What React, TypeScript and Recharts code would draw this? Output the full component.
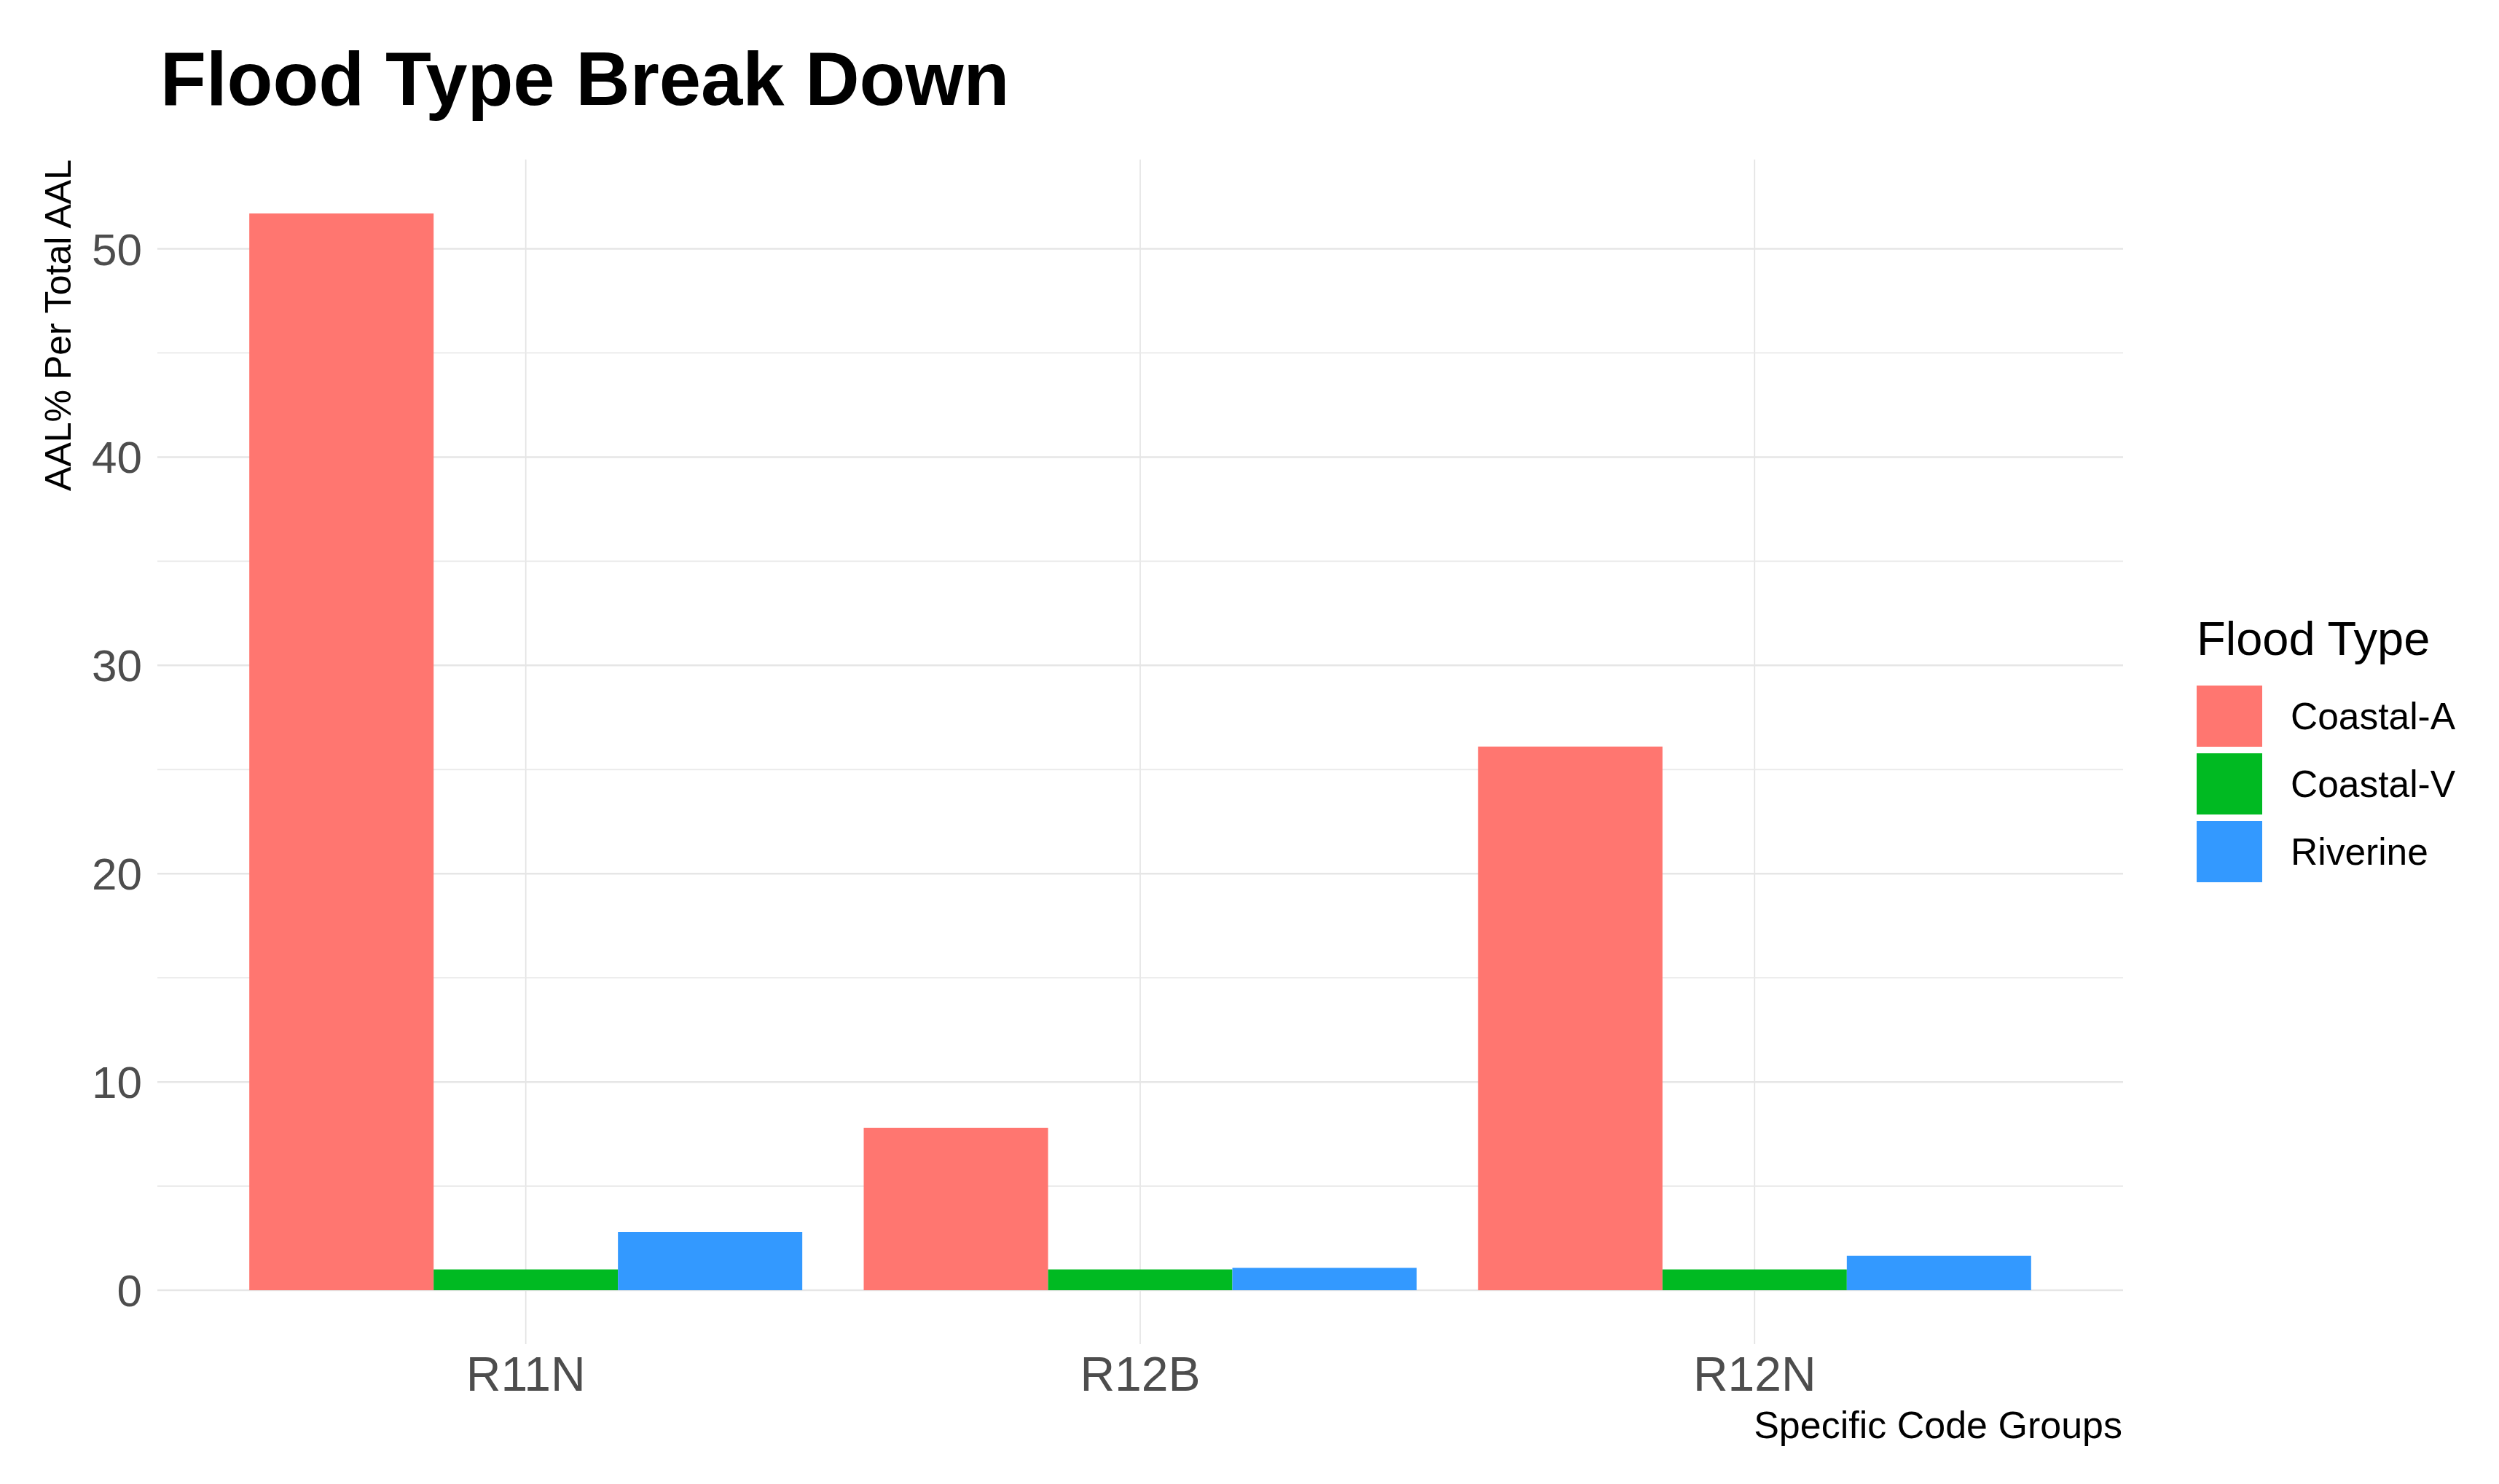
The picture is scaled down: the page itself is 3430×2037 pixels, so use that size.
import { Bar, BarChart, CartesianGrid, XAxis, YAxis } from 'recharts';

const CATEGORIES = ['R11N', 'R12B', 'R12N'];
const COASTAL_A = [51.7, 7.8, 26.1];
const COASTAL_V = [1.0, 1.0, 1.0];
const RIVERINE = [2.8, 1.08, 1.66];
const MAJOR_TICKS = [0, 10, 20, 30, 40, 50];
const MINOR_TICKS = [5, 15, 25, 35, 45];

const SERIES = [
  { key: 'coastalA', name: 'Coastal-A', color: '#FF7670', values: COASTAL_A },
  { key: 'coastalV', name: 'Coastal-V', color: '#00BA22', values: COASTAL_V },
  { key: 'riverine', name: 'Riverine', color: '#3399FF', values: RIVERINE },
];

const FONT = "'Liberation Sans', Arial, sans-serif";

const chartData = CATEGORIES.map((group, i) => {
  const row: Record<string, string | number> = { group };
  SERIES.forEach((s) => {
    row[s.key] = s.values[i];
  });
  return row;
});

// ggplot-style 5% expansion of the data range
const allValues = [0, ...COASTAL_A, ...COASTAL_V, ...RIVERINE];
const yMin = Math.min(...allValues);
const yMax = Math.max(...allValues);
const yPad = (yMax - yMin) * 0.05;
const Y_DOMAIN = [yMin - yPad, yMax + yPad];

const YTitle = () => (
  <text
    x={80}
    y={219}
    transform="rotate(-90 80 219)"
    textAnchor="end"
    dominantBaseline="central"
    fontSize={50}
    fontFamily={FONT}
    fill="#000"
  >
    AAL% Per Total AAL
  </text>
);

const XTitle = () => (
  <text x={2913} y={1974} textAnchor="end" fontSize={52} fontFamily={FONT} fill="#000">
    Specific Code Groups
  </text>
);

export default function App() {
  return (
    <div style={{ position: 'relative', width: 3430, height: 2037, background: '#fff' }}>
      <style>{'body{margin:0}'}</style>
      <div
        style={{
          position: 'absolute',
          left: 220,
          top: 57,
          fontFamily: FONT,
          fontWeight: 'bold',
          fontSize: 103,
          lineHeight: '103px',
          whiteSpace: 'nowrap',
          color: '#000',
        }}
      >
        Flood Type Break Down
      </div>

      <BarChart
        width={3430}
        height={2037}
        data={chartData}
        margin={{ top: 219, right: 516, bottom: 0, left: 0 }}
        barCategoryGap="5%"
        barGap={0}
      >
        <CartesianGrid horizontal={false} syncWithTicks stroke="#E2E2E2" strokeWidth={1.6} />
        <CartesianGrid vertical={false} horizontalValues={MINOR_TICKS} stroke="#E9E9E9" strokeWidth={1.8} />
        <CartesianGrid vertical={false} horizontalValues={MAJOR_TICKS} stroke="#E6E6E6" strokeWidth={2.5} />
        <XAxis
          dataKey="group"
          height={192}
          padding={{ left: 84, right: 84 }}
          interval={0}
          tickLine={false}
          axisLine={false}
          tickSize={0}
          tickMargin={17}
          tick={{ fontSize: 66, fill: '#4D4D4D', fontFamily: FONT }}
          label={<XTitle />}
        />
        <YAxis
          width={216}
          domain={Y_DOMAIN}
          ticks={MAJOR_TICKS}
          allowDataOverflow
          tickLine={false}
          axisLine={false}
          tickSize={0}
          tickMargin={21}
          tick={{ fontSize: 62, fill: '#4D4D4D', fontFamily: FONT }}
          label={<YTitle />}
        />
        {SERIES.map((s) => (
          <Bar key={s.key} dataKey={s.key} name={s.name} fill={s.color} isAnimationActive={false} />
        ))}
      </BarChart>

      <div style={{ position: 'absolute', left: 3015, top: 844, fontFamily: FONT, color: '#000' }}>
        <div style={{ fontSize: 65, lineHeight: '65px', marginBottom: 27, whiteSpace: 'nowrap' }}>Flood Type</div>
        {SERIES.map((s) => (
          <div key={s.key} style={{ display: 'flex', alignItems: 'center', height: 93 }}>
            <div style={{ width: 90, height: 84, background: s.color }} />
            <span style={{ marginLeft: 39, fontSize: 51.5, lineHeight: '52px', whiteSpace: 'nowrap' }}>{s.name}</span>
          </div>
        ))}
      </div>
    </div>
  );
}
